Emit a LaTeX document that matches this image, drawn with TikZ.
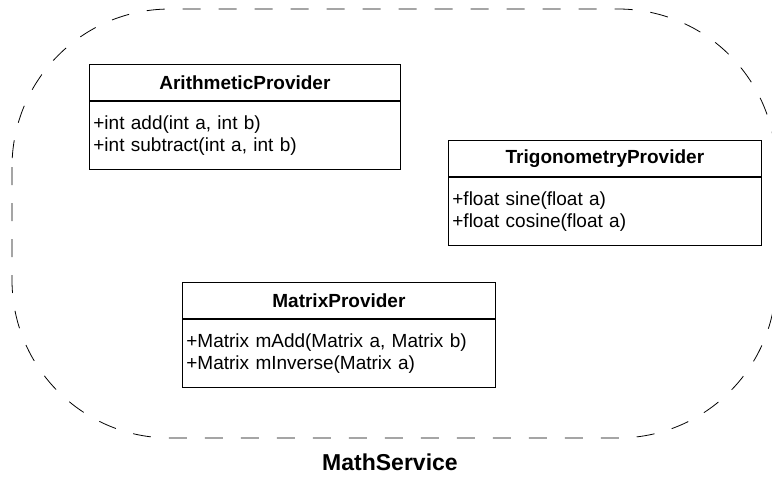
\documentclass[tikz,border=0pt]{standalone}
\usepackage{fontspec}
\setmainfont{Liberation Sans}
\begin{document}
\begin{tikzpicture}[x=1pt,y=-1pt,
  boxline/.style={draw=black, line width=0.8pt},
  classtitle/.style={boxline, anchor=north west, minimum height=36pt, inner sep=0pt,
    font=\bfseries\fontsize{19}{22}\selectfont},
  classbody/.style={boxline, anchor=north west, minimum height=68pt, inner xsep=4pt, inner ysep=0pt,
    align=left, font=\fontsize{19}{22}\selectfont},
  boundary/.style={line width=0.8pt, dash pattern=on 18pt off 18pt, rounded corners=158pt},
  svcname/.style={inner sep=0pt, anchor=base, font=\bfseries\fontsize{23}{26}\selectfont}
]
\useasboundingbox (0,0) rectangle (772,477);
\clip (0,0) rectangle (772,477);
\draw[boundary] (12,9) rectangle (776,438);

% ArithmeticProvider
\node[classtitle, minimum width=311pt] (apt) at (89,64) {ArithmeticProvider};
\node[classbody, text width=303pt, minimum width=311pt] (apb) at (apt.south west)
  {+int add(int a, int b)\\+int subtract(int a, int b)};

% TrigonometryProvider
\node[classtitle, minimum width=313pt] (tpt) at (448,140) {TrigonometryProvider};
\node[classbody, text width=305pt, minimum width=313pt] (tpb) at (tpt.south west)
  {+float sine(float a)\\+float cosine(float a)};

% MatrixProvider
\node[classtitle, minimum width=313pt] (mpt) at (182,282) {MatrixProvider};
\node[classbody, text width=305pt, minimum width=313pt] (mpb) at (mpt.south west)
  {+Matrix mAdd(Matrix a, Matrix b)\\+Matrix mInverse(Matrix a)};

\node[svcname] (ms) at (390,470) {MathService};
\end{tikzpicture}
\end{document}
